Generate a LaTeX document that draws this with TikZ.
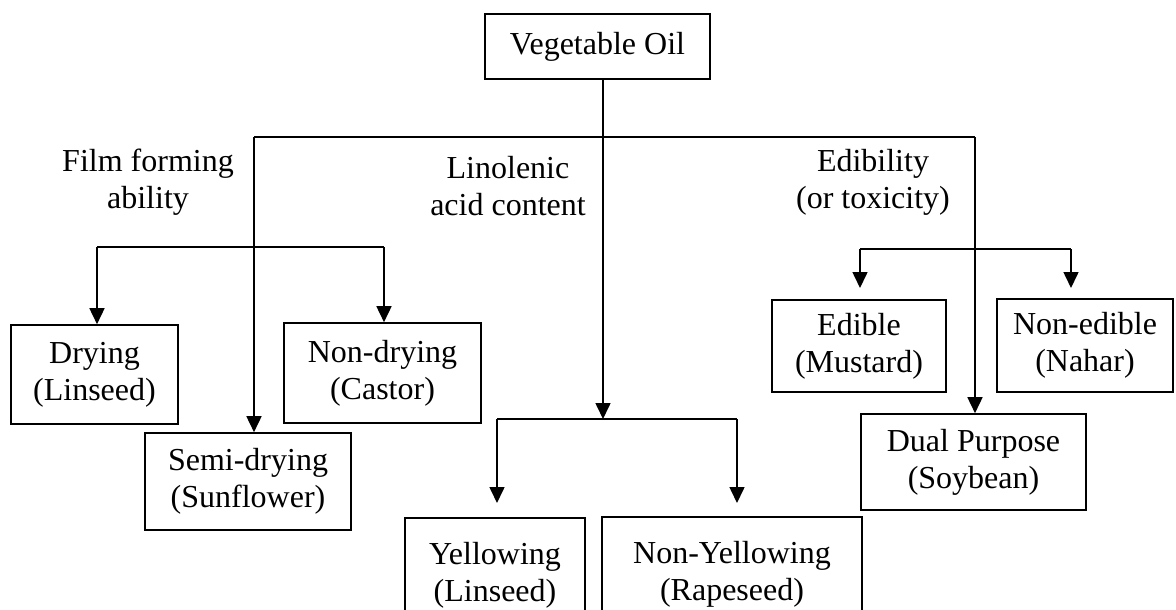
\documentclass[tikz,border=0pt]{standalone}
\usepackage{fontspec}
\setmainfont{Liberation Serif}
\usetikzlibrary{arrows.meta}
\tikzset{
  box/.style={draw, line width=1.6pt, inner sep=0pt, align=center,
    font=\fontsize{32pt}{37pt}\selectfont},
  lbl/.style={inner sep=0pt, align=center, font=\fontsize{32pt}{37pt}\selectfont},
  link/.style={line width=1.6pt},
  arr/.style={line width=1.6pt, -{Triangle[length=16pt,width=15pt]}}
}
\begin{document}
\begin{tikzpicture}[x=1pt,y=-1pt]
\useasboundingbox (0,0) rectangle (1176,610);
\clip (0,0) rectangle (1176,610);
\fill[white] (0,0) rectangle (1176,610);

% boxes
\node[box, minimum width=225pt, minimum height=65pt] (veg) at (597.5,46.5) {Vegetable Oil};
\node[box, minimum width=167pt, minimum height=99pt] (dry) at (94.5,374.5) {Drying\\(Linseed)};
\node[box, minimum width=197pt, minimum height=100pt] (nondry) at (382.5,373) {Non-drying\\(Castor)};
\node[box, minimum width=206pt, minimum height=97pt] (semi) at (248,481.5) {Semi-drying\\(Sunflower)};
\node[box, minimum width=180pt, minimum height=114pt] (yel) at (495,575) {Yellowing\\(Linseed)};
\node[box, minimum width=260pt, minimum height=114pt] (nonyel) at (732,574) {Non-Yellowing\\(Rapeseed)};
\node[box, minimum width=174pt, minimum height=92pt] (edible) at (859,346) {Edible\\(Mustard)};
\node[box, minimum width=176pt, minimum height=93pt] (nonedible) at (1085,345.5) {Non-edible\\(Nahar)};
\node[box, minimum width=225pt, minimum height=96pt] (dual) at (973.5,462) {Dual Purpose\\(Soybean)};

% labels
\node[lbl] (film) at (148,182) {Film forming\\ability};
\node[lbl] (lino) at (508,186) {Linolenic\\acid content};
\node[lbl] (edib) at (873,182) {Edibility\\(or toxicity)};

% coordinates
\coordinate (vtop) at (603,79);
\coordinate (tl) at (254,137);
\coordinate (tm) at (603,137);
\coordinate (tr) at (975,137);
\coordinate (linbar) at (603,419);
\coordinate (fl) at (97,247);
\coordinate (fr) at (384,247);
\coordinate (el) at (860,249);
\coordinate (er) at (1071,249);
\coordinate (ll) at (497,419);
\coordinate (lr) at (737,419);
\coordinate (elend) at (860,288);
\coordinate (erend) at (1071,288);
\coordinate (llend) at (497,503);
\coordinate (lrend) at (737,503);

% main trunk
\draw[link] (vtop) -- (tm);
\draw[link] (tl) -- (tr);
\draw[arr] (tm) -- (linbar);
\draw[arr] (tl) -- (tl |- semi.north);
\draw[arr] (tr) -- (tr |- dual.north);

% film forming branch
\draw[link] (fl) -- (fr);
\draw[arr] (fl) -- (fl |- dry.north);
\draw[arr] (fr) -- (fr |- nondry.north);

% edibility branch
\draw[link] (el) -- (er);
\draw[arr] (el) -- (elend);
\draw[arr] (er) -- (erend);

% linolenic branch
\draw[link] (ll) -- (lr);
\draw[arr] (ll) -- (llend);
\draw[arr] (lr) -- (lrend);
\end{tikzpicture}
\end{document}
